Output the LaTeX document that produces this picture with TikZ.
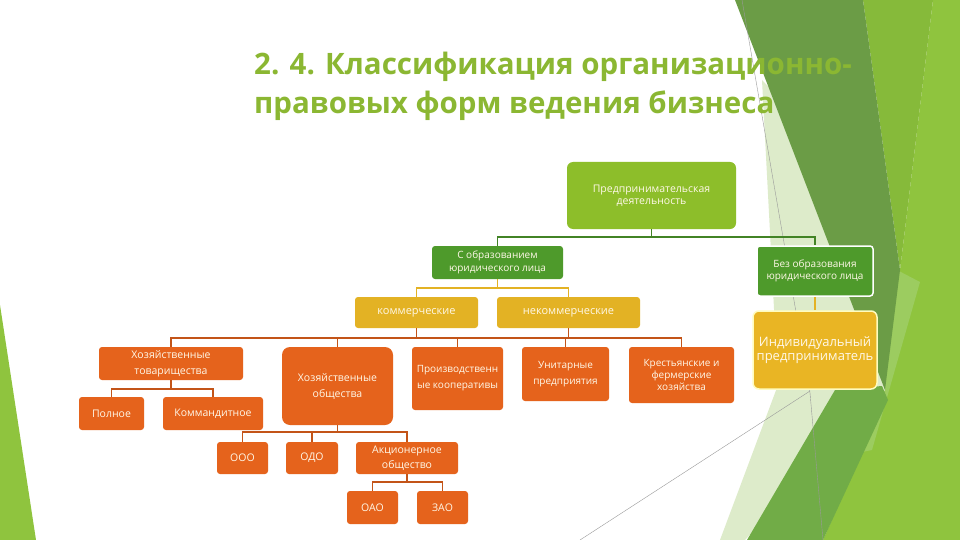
\documentclass[tikz,border=0pt]{standalone}
\usepackage{fontspec}
\setmainfont{Open Sans}
\newfontfamily\titlefont{Open Sans}
\usetikzlibrary{calc}

\definecolor{limebox}{RGB}{141,190,42}
\definecolor{grnbox}{RGB}{78,154,43}
\definecolor{goldbox}{RGB}{227,178,36}
\definecolor{ipbox}{RGB}{233,181,36}
\definecolor{orbox}{RGB}{229,99,28}
\definecolor{boxtext}{RGB}{255,248,232}
\definecolor{titlegreen}{RGB}{139,183,50}
\definecolor{decolime}{RGB}{143,196,62}
\definecolor{decoyel}{RGB}{134,186,58}
\definecolor{decolight}{RGB}{156,204,96}
\definecolor{decodark}{RGB}{107,156,70}
\definecolor{decomid}{RGB}{113,172,71}
\definecolor{decopale}{RGB}{221,235,202}

\tikzset{
	box/.style={rounded corners=3pt, inner sep=0pt, align=center, text=boxtext, font=\fontsize{10.5}{16}\selectfont},
	limenode/.style={box, fill=limebox},
	grnnode/.style={box, fill=grnbox},
	goldnode/.style={box, fill=goldbox},
	ornode/.style={box, fill=orbox},
	gline/.style={draw=grnbox!85!black, line width=1.8pt},
	yline/.style={draw=goldbox, line width=1.8pt},
	oline/.style={draw=orbox!85!black, line width=1.8pt},
	thinline/.style={draw=black!40, line width=0.4pt},
	title/.style={anchor=base west, inner sep=0pt, text=titlegreen, font=\titlefont\bfseries\fontsize{29.5}{30}\selectfont}
}

\begin{document}
\begin{tikzpicture}[x=1pt,y=-1pt]
			%%%%% START %%%%%
			\useasboundingbox (0,0) rectangle (960,540);
			\fill[white] (0,0) rectangle (960,540);
			
			% background facets
			\fill[decolime] (0,305) -- (36,540) -- (0,540) -- cycle;
			\fill[decolime] (933,0) -- (960,0) -- (960,540) -- (823,540) -- (885,400) -- (900,270) -- cycle;
			\fill[decoyel] (863,0) -- (933,0) -- (900,270) -- cycle;
			\fill[decolight] (897,270) -- (920,282) -- (872,450) -- (862,452) -- cycle;
			\fill[decopale] (762,80) -- (800,120) -- (885,390) -- (745,540) -- (720,540) -- (778,385) -- cycle;
			\fill[decodark] (735,0) -- (863,0) -- (900,270) -- (885,390) -- cycle;
			\fill[decomid] (747,540) -- (835,390) -- (882,386) -- (888,400) -- (823,540) -- cycle;
			\draw[thinline] (742,0) -- (810,393) -- (823,540);
			\draw[thinline] (580,540) -- (810,391);
			
			% title
			\node[title] (t1) at (254,75) {2. 4. Классификация организационно-};
			\node[title] (t2) at (254,114) {правовых форм ведения бизнеса};
			
			% top levels
			\node[limenode, minimum width=169pt, minimum height=67pt, rounded corners=6pt, font=\fontsize{10.5}{12}\selectfont] (pd) at (651.5,195.5) {Предпринимательская\\деятельность};
			\node[grnnode, minimum width=131pt, minimum height=33pt, font=\fontsize{10}{12.5}\selectfont] (sob) at (497.5,262.5) {С образованием\\юридического лица};
			\node[grnnode, draw=white, line width=1.5pt, minimum width=116pt, minimum height=50pt, font=\fontsize{10}{12.5}\selectfont] (bez) at (815,271) {Без образования\\юридического лица};
			\node[goldnode, minimum width=123pt, minimum height=31pt, font=\fontsize{11}{12}\selectfont] (kom) at (416.5,312.5) {коммерческие};
			\node[goldnode, minimum width=143pt, minimum height=31pt, font=\fontsize{11}{12}\selectfont] (nekom) at (568.5,312.5) {некоммерческие};
			\node[box, fill=ipbox, draw=yellow!25, line width=1.5pt, rounded corners=6pt, minimum width=124pt, minimum height=78pt, font=\fontsize{13}{14}\selectfont] (ip) at (815,350) {Индивидуальный\\предприниматель};
			
			% commercial / non-commercial forms
			\node[ornode, minimum width=144pt, minimum height=33pt] (ht) at (171,363.5) {Хозяйственные\\товарищества};
			\node[ornode, rounded corners=8pt, minimum width=111pt, minimum height=78pt] (ho) at (337.5,386) {Хозяйственные\\общества};
			\node[ornode, minimum width=91pt, minimum height=63pt, font=\fontsize{10}{16}\selectfont] (pk) at (457.5,378.5) {Производственн\\ые кооперативы};
			\node[ornode, minimum width=87pt, minimum height=54pt, font=\fontsize{10}{16}\selectfont] (up) at (565.5,374) {Унитарные\\предприятия};
			\node[ornode, minimum width=105pt, minimum height=56pt, font=\fontsize{10}{12}\selectfont] (kf) at (681.5,375) {Крестьянские и\\фермерские\\хозяйства};
			
			\node[ornode, minimum width=65pt, minimum height=33pt] (poln) at (111.5,413.5) {Полное};
			\node[ornode, minimum width=100pt, minimum height=33pt] (kmd) at (213,413.5) {Коммандитное};
			
			\node[ornode, minimum width=51pt, minimum height=32pt] (ooo) at (242.5,458) {ООО};
			\node[ornode, minimum width=52pt, minimum height=32pt] (odo) at (312,458) {ОДО};
			\node[ornode, minimum width=102pt, minimum height=32pt, font=\fontsize{10.5}{15}\selectfont] (ao) at (407,458) {Акционерное\\общество};
			\node[ornode, minimum width=51pt, minimum height=33pt] (oao) at (372.5,507.5) {ОАО};
			\node[ornode, minimum width=51pt, minimum height=33pt] (zao) at (442.5,507.5) {ЗАО};
			
			% connectors
			\draw[gline] (pd.south) -- ++(0,8) -| (sob.north);
			\draw[gline] (pd.south) -- ++(0,8) -| (bez.north);
			\draw[yline] (bez.south) -- (ip.north);
			\draw[yline] (sob.south) -- ++(0,9) -| (kom.north);
			\draw[yline] (sob.south) -- ++(0,9) -| (nekom.north);
			
			\draw[oline] (kom.south) -- ++(0,10) -| (ht.north);
			\draw[oline] (kom.south) -- ++(0,10) -| (ho.north);
			\draw[oline] (kom.south) -- ++(0,10) -| (pk.north);
			\draw[oline] (pk.north) ++(0,-9) -| (up.north);
			\draw[oline] (nekom.south) -- ++(0,10) -| (up.north);
			\draw[oline] (nekom.south) -- ++(0,10) -| (kf.north);
			
			\draw[oline] (ht.south) -- ++(0,9) -| (poln.north);
			\draw[oline] (ht.south) -- ++(0,9) -| (kmd.north);
			\draw[oline] (ho.south) -- ++(0,7) -| (ooo.north);
			\draw[oline] (ho.south) -- ++(0,7) -| (odo.north);
			\draw[oline] (ho.south) -- ++(0,7) -| (ao.north);
			\draw[oline] (ao.south) -- ++(0,8) -| (oao.north);
			\draw[oline] (ao.south) -- ++(0,8) -| (zao.north);
			
			%%%%% END %%%%%
\end{tikzpicture}
\end{document}
